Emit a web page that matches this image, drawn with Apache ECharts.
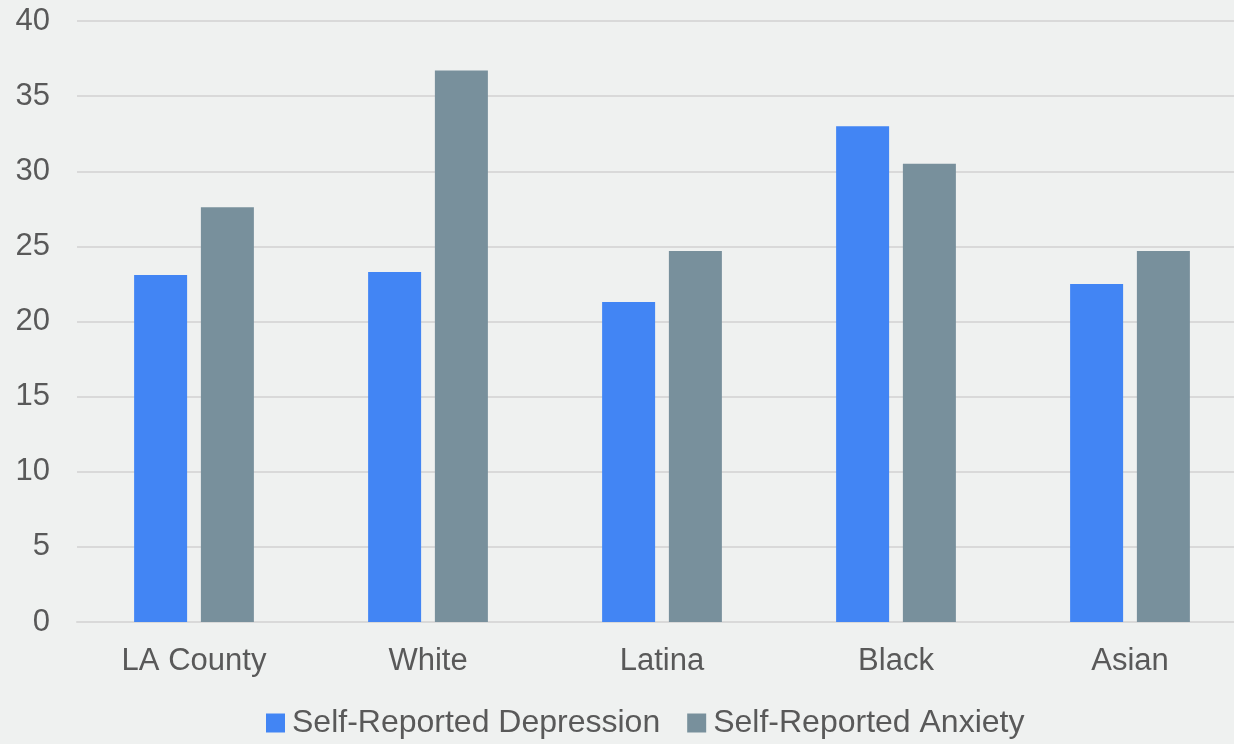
<!DOCTYPE html>
<html>
<head>
<meta charset="utf-8">
<script src="https://cdn.jsdelivr.net/npm/echarts@6/dist/echarts.min.js"></script>
<style>
html, body { margin: 0; padding: 0; background: #eff1f0; }
#chart { width: 1234px; height: 744px; }
</style>
</head>
<body>
<div id="chart"></div>
<script>
const categories = ['LA County', 'White', 'Latina', 'Black', 'Asian'];
const depression = [23.1, 23.3, 21.3, 33.0, 22.5];
const anxiety = [27.6, 36.7, 24.7, 30.5, 24.7];
const seriesNames = ['Self-Reported Depression', 'Self-Reported Anxiety'];

const font = 'Liberation Sans, Arial, sans-serif';
const textColor = '#595959';

let mychart = echarts.init(document.getElementById('chart'));
mychart.setOption({
    backgroundColor: '#eff1f0',
    animation: false,
    textStyle: { fontFamily: font },
    grid: { left: 77, right: -13, top: 21, bottom: 122, outerBoundsMode: 'none', containLabel: false },
    legend: {
        bottom: 0,
        left: 261,
        itemWidth: 19,
        itemHeight: 19,
        itemGap: 27,
        icon: 'rect',
        textStyle: { fontSize: 32, color: textColor, fontFamily: font, padding: [0, 0, 0, 2] },
        data: seriesNames
    },
    xAxis: {
        type: 'category',
        data: categories,
        axisLine: { lineStyle: { color: '#d9d9d9', width: 2 } },
        axisTick: { show: false },
        axisLabel: { fontSize: 31, color: textColor, margin: 24, fontFamily: font }
    },
    yAxis: {
        type: 'value',
        min: 0,
        max: 40,
        interval: 5,
        axisLine: { show: false },
        axisTick: { show: false },
        axisLabel: { fontSize: 31, color: textColor, margin: 27, fontFamily: font },
        splitLine: { lineStyle: { color: '#d9d9d9', width: 2 } }
    },
    series: [
        {
            name: seriesNames[0],
            type: 'bar',
            data: depression,
            barWidth: 53,
            barGap: '26%',
            itemStyle: { color: '#4285f4' }
        },
        {
            name: seriesNames[1],
            type: 'bar',
            data: anxiety,
            barWidth: 53,
            itemStyle: { color: '#78909c' }
        }
    ]
});
</script>
</body>
</html>
